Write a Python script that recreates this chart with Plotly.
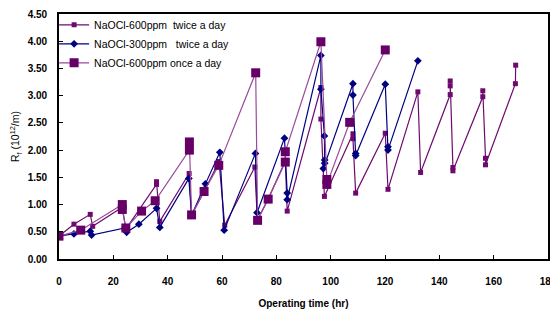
import plotly.graph_objects as go

# Series 1: NaOCl-600ppm twice a day
t1 = [0, 5.5, 11.5, 12.4, 23.3, 24.6, 35.9, 35.9, 37.1, 47.9, 48.8, 53.4, 58.9, 61.0,
      72.1, 73.0, 77.0, 83.3, 84.0, 96.4, 96.4, 97.7, 108.2, 108.2, 109.2, 120.1, 121.1,
      132.1, 133.1, 144.0, 144.0, 144.0, 145.0, 145.0, 156.0, 156.0, 157.0, 157.0, 168.0, 168.1]
r1 = [0.42, 0.64, 0.82, 0.60, 0.95, 0.55, 1.37, 1.42, 0.69, 1.57, 0.81, 1.24, 1.79, 0.62,
      1.69, 0.71, 1.10, 1.80, 0.88, 3.15, 2.57, 1.15, 2.30, 2.21, 1.21, 2.31, 1.28,
      3.07, 1.59, 3.02, 3.18, 3.27, 1.68, 1.62, 2.98, 3.09, 1.85, 1.73, 3.22, 3.56]

# Series 2: NaOCl-300ppm twice a day
t2 = [0, 5.5, 11.5, 12.0, 24.3, 24.9, 29.4, 35.9, 37.1, 47.8, 48.8, 53.9, 59.2, 60.8,
      72.3, 72.9, 83.0, 84.0, 84.0, 96.4, 96.4, 97.7, 97.8, 97.8, 97.3, 108.2, 108.2,
      109.2, 109.2, 120.1, 121.1, 121.1, 132.1]
r2 = [0.42, 0.46, 0.51, 0.44, 0.57, 0.49, 0.64, 0.93, 0.58, 1.48, 0.80, 1.38, 1.96, 0.53,
      1.94, 0.85, 2.22, 1.21, 1.09, 3.74, 3.12, 2.26, 1.82, 1.76, 1.66, 3.22, 3.01,
      1.94, 1.90, 3.21, 2.06, 2.00, 3.64]

# Series 3: NaOCl-600ppm once a day
t3 = [0, 8.0, 23.3, 23.3, 24.6, 30.4, 35.4, 48.0, 48.0, 48.8, 53.4, 58.8, 72.4, 73.1,
      77.0, 83.3, 83.3, 96.4, 98.6, 98.6, 107.0, 120.1]
r3 = [0.42, 0.53, 1.00, 0.91, 0.57, 0.88, 1.07, 2.00, 2.15, 0.81, 1.24, 1.72, 3.42, 0.71,
      1.10, 1.78, 1.97, 3.99, 1.46, 1.37, 2.51, 3.84]

names = ["NaOCl-600ppm  twice a day", "NaOCl-300ppm   twice a day", "NaOCl-600ppm once a day"]
x_ticks = [0, 20, 40, 60, 80, 100, 120, 140, 160, 180]
y_ticks = [0, 0.5, 1.0, 1.5, 2.0, 2.5, 3.0, 3.5, 4.0, 4.5]

FONT = "Liberation Sans, Arial, sans-serif"

fig = go.Figure()
fig.add_trace(go.Scatter(x=t1, y=r1, name=names[0], mode="lines+markers",
                         line=dict(color="#6e0a6e", width=1.2),
                         marker=dict(symbol="square", size=5, color="#6e0a6e")))
fig.add_trace(go.Scatter(x=t2, y=r2, name=names[1], mode="lines+markers",
                         line=dict(color="#000080", width=1.2),
                         marker=dict(symbol="diamond", size=6, color="#000080")))
fig.add_trace(go.Scatter(x=t3, y=r3, name=names[2], mode="lines+markers",
                         line=dict(color="#9a4a9a", width=1.2),
                         marker=dict(symbol="square", size=9, color="#660066")))

axis_common = dict(showline=True, linecolor="black", linewidth=1.6, mirror=True,
                   ticks="inside", ticklen=4, tickcolor="black", tickwidth=1,
                   showgrid=False, zeroline=False, automargin=False,
                   tickfont=dict(family=FONT, size=10, color="black", weight="bold"))

# page body has an 8px default margin, so the figure is 550x312 to fill the 558x320 window
fig.update_layout(
    width=550, height=312,
    margin=dict(l=51, r=10, t=2, b=61),
    plot_bgcolor="white", paper_bgcolor="white",
    font=dict(family=FONT, size=10, color="black"),
    xaxis=dict(range=[0, 180], tickvals=x_ticks, ticklabelstandoff=12,
               title=dict(text="Operating time (hr)", standoff=14,
                          font=dict(family=FONT, size=10, color="black", weight="bold")),
               **axis_common),
    yaxis=dict(range=[0, 4.5], tickvals=y_ticks, tickformat=".2f", ticklabelstandoff=8,
               title=dict(text="R<sub>f</sub> (10<sup>12</sup>/m)", standoff=8,
                          font=dict(family=FONT, size=10.5, color="black")),
               **axis_common),
    legend=dict(x=-0.01, y=1.015, xanchor="left", yanchor="top",
                bgcolor="rgba(0,0,0,0)", borderwidth=0, itemwidth=30,
                font=dict(family=FONT, size=10.5, color="black"), tracegroupgap=0),
)

fig.write_html("out.html")
